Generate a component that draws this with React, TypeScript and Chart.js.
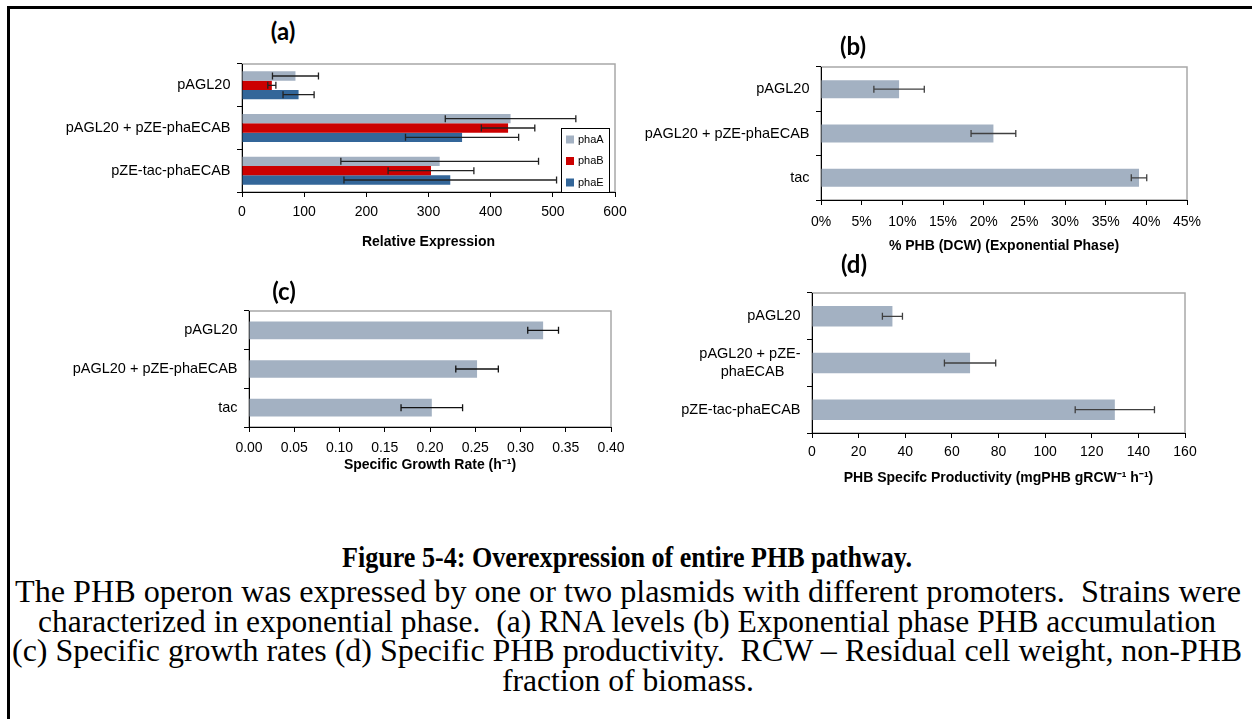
import React, { useEffect, useLayoutEffect, useRef } from "react";
import { Chart, registerables } from "chart.js";

Chart.register(...registerables);

const SANS = "'Liberation Sans', Arial, sans-serif";
const SERIF = "'Liberation Serif', 'Times New Roman', serif";

const GRAY = "#A3B1C2";
const RED = "#CC0000";
const BLUE = "#336699";

// (a) relative RNA expression of the operon genes
const strainsA = ["pAGL20", "pAGL20 + pZE-phaECAB", "pZE-tac-phaECAB"];
const phaA = [86, 432, 318];
const phaAErr = [37, 105, 159];
const phaB = [48, 428, 304];
const phaBErr = [6.5, 43, 69];
const phaE = [91, 354, 335];
const phaEErr = [25, 91, 171];
const expressionTicks = [0, 100, 200, 300, 400, 500, 600];

// (b) PHB content in exponential phase, % of dry cell weight
const strainsB = ["pAGL20", "pAGL20 + pZE-phaECAB", "tac"];
const phbContent = [9.6, 21.2, 39.1];
const phbContentErr = [3.1, 2.75, 0.95];
const phbContentTicks = [0, 5, 10, 15, 20, 25, 30, 35, 40, 45];

// (c) specific growth rate, 1/h
const strainsC = ["pAGL20", "pAGL20 + pZE-phaECAB", "tac"];
const growthRate = [0.325, 0.252, 0.202];
const growthRateErr = [0.017, 0.0235, 0.034];
const growthTicks = [0, 0.05, 0.1, 0.15, 0.2, 0.25, 0.3, 0.35, 0.4];

// (d) specific PHB productivity, mgPHB per g residual cell weight per hour
const strainsD = ["pAGL20", ["pAGL20 + pZE-", "phaECAB    "], "pZE-tac-phaECAB"];
const productivity = [34.5, 67.8, 129.9];
const productivityErr = [4.3, 11, 17];
const productivityTicks = [0, 20, 40, 60, 80, 100, 120, 140, 160];

const captionTitle = "Figure 5-4: Overexpression of entire PHB pathway.";
const captionLines = [
  "The PHB operon was expressed by one or two plasmids with different promoters.  Strains were",
  "characterized in exponential phase.  (a) RNA levels (b) Exponential phase PHB accumulation",
  "(c) Specific growth rates (d) Specific PHB productivity.  RCW \u2013 Residual cell weight, non-PHB",
  "fraction of biomass.",
];

type Series = { label: string; values: number[]; errors: number[]; color: string };
type Rect = { left: number; top: number; width: number; height: number };
type Area = { left: number; top: number; right: number; bottom: number };

type PanelProps = {
  box: Rect;
  plot: Area;
  categories: (string | string[])[];
  series: Series[];
  ticks: number[];
  tickLabel: (v: number) => string;
  axisTitle: string;
  groupFraction: number;
  tickGap: number;
  titleGap: number;
  errorColor: string;
  legend?: boolean;
};

function BarPanel(p: PanelProps) {
  const ref = useRef<HTMLCanvasElement>(null);

  useEffect(() => {
    const { box, plot } = p;
    const plotFrame = {
      id: "plotFrame",
      beforeDraw(chart: any) {
        const { ctx, chartArea: a } = chart;
        ctx.save();
        ctx.strokeStyle = "#A8A8A8";
        ctx.lineWidth = 1.5;
        ctx.strokeRect(a.left, a.top, a.right - a.left, a.bottom - a.top);
        ctx.restore();
      },
    };
    const errorBars = {
      id: "errorBars",
      afterDatasetsDraw(chart: any) {
        const { ctx } = chart;
        const xs = chart.scales.x;
        chart.data.datasets.forEach((ds: any, i: number) => {
          const meta = chart.getDatasetMeta(i);
          meta.data.forEach((bar: any, j: number) => {
            const v = ds.data[j];
            const e = ds.errors[j];
            const x1 = xs.getPixelForValue(v - e);
            const x2 = xs.getPixelForValue(v + e);
            const y = bar.y;
            ctx.save();
            ctx.strokeStyle = p.errorColor;
            ctx.lineWidth = 1.3;
            ctx.beginPath();
            ctx.moveTo(x1, y);
            ctx.lineTo(x2, y);
            ctx.moveTo(x1, y - 3.5);
            ctx.lineTo(x1, y + 3.5);
            ctx.moveTo(x2, y - 3.5);
            ctx.lineTo(x2, y + 3.5);
            ctx.stroke();
            ctx.restore();
          });
        });
      },
    };
    const boxLegend = {
      id: "boxLegend",
      afterDraw(chart: any) {
        if (!p.legend) return;
        const { ctx, chartArea: a } = chart;
        const x0 = a.right - 54;
        const y0 = a.top + 64;
        const w = 48;
        const h = 64;
        ctx.save();
        ctx.fillStyle = "#fff";
        ctx.fillRect(x0, y0, w, h);
        ctx.strokeStyle = "#000";
        ctx.lineWidth = 1;
        ctx.strokeRect(x0 + 0.5, y0 + 0.5, w, h);
        ctx.font = `11px ${SANS}`;
        ctx.textBaseline = "middle";
        chart.data.datasets.forEach((ds: any, i: number) => {
          const cy = y0 + 11.5 + i * 21.5;
          ctx.fillStyle = ds.backgroundColor;
          ctx.fillRect(x0 + 5, cy - 4, 8, 8);
          ctx.fillStyle = "#000";
          ctx.fillText(ds.label, x0 + 17, cy);
        });
        ctx.restore();
      },
    };

    const chart = new Chart(ref.current as HTMLCanvasElement, {
      type: "bar",
      data: {
        labels: p.categories as any,
        datasets: p.series.map((s) => ({
          label: s.label,
          data: s.values,
          errors: s.errors,
          backgroundColor: s.color,
          borderWidth: 0,
          categoryPercentage: p.groupFraction,
          barPercentage: 1,
        })) as any,
      },
      options: {
        indexAxis: "y",
        animation: false,
        responsive: false,
        maintainAspectRatio: false,
        layout: {
          padding: {
            top: plot.top - box.top,
            right: box.left + box.width - plot.right,
            left: 0,
            bottom: 0,
          },
        },
        plugins: {
          legend: { display: false },
          tooltip: { enabled: false },
          title: { display: false },
        },
        scales: {
          y: {
            type: "category",
            offset: true,
            z: 1,
            grid: {
              offset: true,
              drawOnChartArea: false,
              drawTicks: true,
              tickLength: 5,
              color: "#000",
              lineWidth: 1,
            },
            border: { display: true, color: "#000", width: 1 },
            ticks: {
              color: "#000",
              font: { family: SANS, size: 14.5, lineHeight: 1.25 },
              padding: 6.5,
              autoSkip: false,
            },
            afterFit: (s: any) => {
              s.width = plot.left - box.left;
              s.paddingTop = 0;
              s.paddingBottom = 0;
            },
          },
          x: {
            type: "linear",
            min: p.ticks[0],
            max: p.ticks[p.ticks.length - 1],
            z: 1,
            afterBuildTicks: (s: any) => {
              s.ticks = p.ticks.map((v) => ({ value: v }));
            },
            grid: {
              drawOnChartArea: false,
              drawTicks: true,
              tickLength: 5,
              color: "#000",
              lineWidth: 1,
            },
            border: { display: true, color: "#000", width: 1 },
            ticks: {
              color: "#000",
              font: { family: SANS, size: 14 },
              padding: p.tickGap,
              maxRotation: 0,
              autoSkip: false,
              callback: (v: any) => p.tickLabel(Number(v)),
            },
            title: {
              display: true,
              text: p.axisTitle,
              color: "#000",
              font: { family: SANS, size: 14, weight: "bold" },
              padding: { top: 0, bottom: p.titleGap },
            },
            afterFit: (s: any) => {
              s.height = box.top + box.height - plot.bottom;
              s.paddingLeft = 0;
              s.paddingRight = 0;
            },
          },
        },
      } as any,
      plugins: [plotFrame, errorBars, boxLegend],
    });
    return () => chart.destroy();
  }, []);

  const { box } = p;
  return (
    <canvas
      ref={ref}
      width={box.width}
      height={box.height}
      style={{ position: "absolute", left: box.left, top: box.top, width: box.width, height: box.height }}
    />
  );
}

function PanelTag({ text, cx, cy }: { text: string; cx: number; cy: number }) {
  return (
    <div
      style={{
        position: "absolute",
        left: cx - 40,
        top: cy - 15,
        width: 80,
        lineHeight: "30px",
        textAlign: "center",
        fontFamily: "Lato, 'Open Sans', sans-serif",
        fontWeight: 700,
        fontSize: 24,
        color: "#000",
      }}
    >
      {text}
    </div>
  );
}

// One caption line, scaled horizontally so that it spans [x0, x1].
function CaptionLine({
  text,
  x0,
  x1,
  cy,
  size,
  bold,
}: {
  text: string;
  x0: number;
  x1: number;
  cy: number;
  size: number;
  bold?: boolean;
}) {
  const ref = useRef<HTMLSpanElement>(null);
  useLayoutEffect(() => {
    const el = ref.current;
    if (!el) return;
    el.style.transform = "none";
    const natural = el.getBoundingClientRect().width;
    if (natural > 0) el.style.transform = `scaleX(${(x1 - x0) / natural})`;
  }, [text, x0, x1]);
  return (
    <div style={{ position: "absolute", left: x0, top: cy - 17, height: 34, whiteSpace: "pre" }}>
      <span
        ref={ref}
        style={{
          display: "inline-block",
          transformOrigin: "0 50%",
          lineHeight: "34px",
          fontFamily: SERIF,
          fontSize: size,
          fontWeight: bold ? 700 : 400,
          color: "#000",
          whiteSpace: "pre",
        }}
      >
        {text}
      </span>
    </div>
  );
}

const captionExtents: [number, number, number][] = [
  [15, 1241, 592],
  [38, 1216, 622],
  [12, 1242, 651],
  [502, 754, 681],
];

export default function App() {
  return (
    <div
      style={{
        position: "absolute",
        left: 0,
        top: 0,
        width: 1252,
        height: 719,
        overflow: "hidden",
        background: "#fff",
      }}
    >
      <div
        style={{
          position: "absolute",
          left: 7,
          top: 6,
          width: 1260,
          height: 730,
          borderLeft: "3px solid #000",
          borderTop: "3px solid #000",
        }}
      />

      <BarPanel
        box={{ left: 40, top: 58, width: 620, height: 200 }}
        plot={{ left: 242, top: 64, right: 615, bottom: 192 }}
        categories={strainsA}
        series={[
          { label: "phaA", values: phaA, errors: phaAErr, color: GRAY },
          { label: "phaB", values: phaB, errors: phaBErr, color: RED },
          { label: "phaE", values: phaE, errors: phaEErr, color: BLUE },
        ]}
        ticks={expressionTicks}
        tickLabel={(v) => String(v)}
        axisTitle="Relative Expression"
        groupFraction={0.657}
        tickGap={6.6}
        titleGap={7.2}
        errorColor="#222"
        legend
      />
      <BarPanel
        box={{ left: 640, top: 60, width: 590, height: 202 }}
        plot={{ left: 821, top: 67, right: 1187, bottom: 200 }}
        categories={strainsB}
        series={[{ label: "% PHB", values: phbContent, errors: phbContentErr, color: GRAY }]}
        ticks={phbContentTicks}
        tickLabel={(v) => `${v}%`}
        axisTitle="% PHB (DCW) (Exponential Phase)"
        groupFraction={0.405}
        tickGap={8.6}
        titleGap={7.2}
        errorColor="#404040"
      />
      <BarPanel
        box={{ left: 40, top: 305, width: 610, height: 180 }}
        plot={{ left: 249, top: 311, right: 611, bottom: 427 }}
        categories={strainsC}
        series={[{ label: "Growth rate", values: growthRate, errors: growthRateErr, color: GRAY }]}
        ticks={growthTicks}
        tickLabel={(v) => v.toFixed(2)}
        axisTitle={"Specific Growth Rate (h\u207B\u00B9)"}
        groupFraction={0.455}
        tickGap={7.6}
        titleGap={11.2}
        errorColor="#111"
      />
      <BarPanel
        box={{ left: 640, top: 287, width: 590, height: 213 }}
        plot={{ left: 812, top: 293, right: 1185, bottom: 433 }}
        categories={strainsD}
        series={[{ label: "Productivity", values: productivity, errors: productivityErr, color: GRAY }]}
        ticks={productivityTicks}
        tickLabel={(v) => String(v)}
        axisTitle={"PHB Specifc Productivity (mgPHB gRCW\u207B\u00B9 h\u207B\u00B9)"}
        groupFraction={0.44}
        tickGap={6}
        titleGap={13.2}
        errorColor="#404040"
      />

      <PanelTag text="(a)" cx={283} cy={31} />
      <PanelTag text="(b)" cx={853} cy={46} />
      <PanelTag text="(c)" cx={284} cy={291} />
      <PanelTag text="(d)" cx={854} cy={264} />

      <CaptionLine text={captionTitle} x0={342} x1={912} cy={557} size={30} bold />
      {captionLines.map((t, i) => (
        <CaptionLine
          key={i}
          text={t}
          x0={captionExtents[i][0]}
          x1={captionExtents[i][1]}
          cy={captionExtents[i][2]}
          size={31}
        />
      ))}
    </div>
  );
}
